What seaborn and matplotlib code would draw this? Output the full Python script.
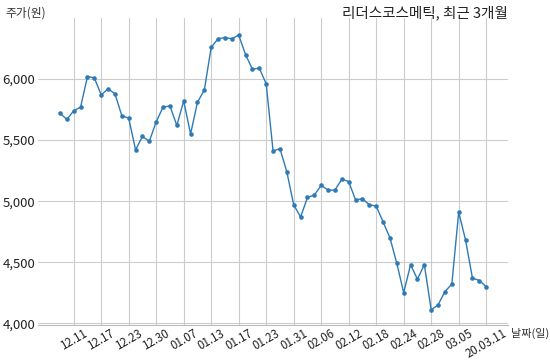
import matplotlib
matplotlib.use("Agg")
import matplotlib.pyplot as plt
import seaborn as sns
import pandas as pd

dates = ["12.09", "12.10", "12.11", "12.12", "12.13", "12.16", "12.17", "12.18", "12.19", "12.20",
         "12.23", "12.24", "12.26", "12.27", "12.30", "01.02", "01.03", "01.06", "01.07", "01.08",
         "01.09", "01.10", "01.13", "01.14", "01.15", "01.16", "01.17", "01.20", "01.21", "01.22",
         "01.23", "01.28", "01.29", "01.30", "01.31", "02.03", "02.04", "02.05", "02.06", "02.07",
         "02.10", "02.11", "02.12", "02.13", "02.14", "02.17", "02.18", "02.19", "02.20", "02.21",
         "02.24", "02.25", "02.26", "02.27", "02.28", "03.02", "03.03", "03.04", "03.05", "03.06",
         "03.09", "03.10", "20.03.11"]
prices = [5720, 5670, 5740, 5770, 6020, 6010, 5870, 5920, 5880, 5700,
          5680, 5420, 5530, 5490, 5650, 5770, 5780, 5620, 5820, 5550,
          5810, 5910, 6260, 6330, 6340, 6330, 6360, 6200, 6080, 6090,
          5960, 5410, 5430, 5240, 4970, 4870, 5030, 5050, 5130, 5090,
          5090, 5180, 5160, 5010, 5020, 4970, 4960, 4830, 4700, 4490,
          4250, 4480, 4360, 4480, 4110, 4150, 4260, 4320, 4910, 4680,
          4370, 4350, 4300]
tick_dates = ["12.11", "12.17", "12.23", "12.30", "01.07", "01.13", "01.17", "01.23",
              "01.31", "02.06", "02.12", "02.18", "02.24", "02.28", "03.05", "20.03.11"]
y_ticks = [4000, 4500, 5000, 5500, 6000]

sns.set_style("white")
plt.rcParams['font.family'] = ['Noto Sans CJK KR', 'DejaVu Sans']

df = pd.DataFrame({"idx": range(len(dates)), "date": dates, "price": prices})

fig = plt.figure(figsize=(5.5, 3.6), dpi=100)
ax = fig.add_axes([0.069, 0.097, 0.855, 0.853])

sns.lineplot(data=df, x="idx", y="price", ax=ax, color="#2e7ab6", linewidth=1.0,
             marker="o", markersize=3.3, markeredgewidth=0, markeredgecolor="#2e7ab6")

tick_pos = [dates.index(d) for d in tick_dates]
ax.set_xticks(tick_pos)
ax.set_xticklabels(tick_dates, rotation=30, ha="center", fontsize=8.3, color="#222222")
ax.set_yticks(y_ticks)
ax.set_yticklabels([f"{v:,}" for v in y_ticks], fontsize=9.5, color="#222222")
ax.set_xlim(-3.2, 65.2)
ax.set_ylim(3985, 6500)
ax.grid(True, color="#cccccc", linewidth=0.8)
ax.tick_params(axis="both", length=0, pad=2)
ax.tick_params(axis="x", pad=1)
for s in ["left", "right", "top"]:
    ax.spines[s].set_visible(False)
ax.spines["bottom"].set_color("#bbbbbb")
ax.spines["bottom"].set_linewidth(0.8)
ax.set_xlabel("")
ax.set_ylabel("")

fig.text(0.924, 0.965, "리더스코스메틱, 최근 3개월", ha="right", va="center", fontsize=10.5, color="#222222")
fig.text(0.009, 0.963, "주가(원)", ha="left", va="center", fontsize=8.5, color="#333333")
fig.text(0.93, 0.075, "날짜(일)", ha="left", va="center", fontsize=8, color="#333333")

fig.savefig("out.png", dpi=100)
